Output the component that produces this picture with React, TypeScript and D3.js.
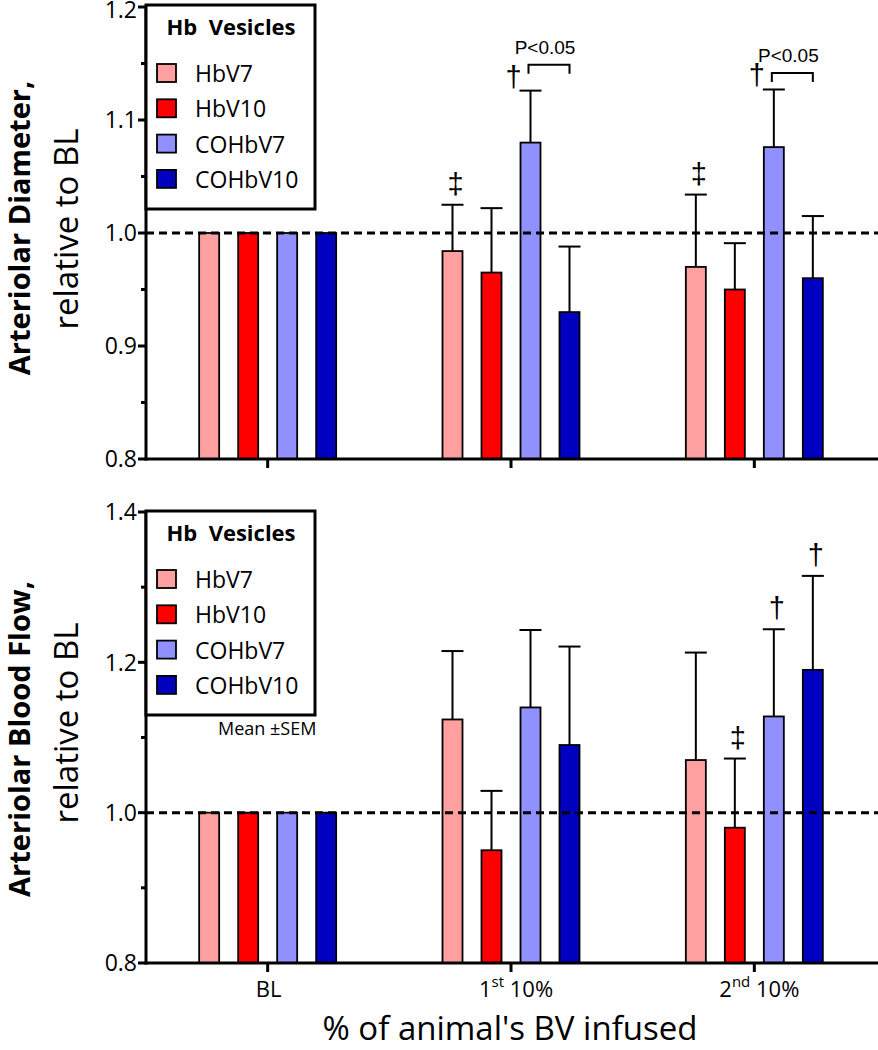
import React, { useLayoutEffect } from "react";
import * as d3 from "d3";

const groups = ["BL", "1st 10%", "2nd 10%"];
const groupMain = ["BL", "1", "2"];
const groupSup = ["", "st", "nd"];
const seriesNames = ["HbV7", "HbV10", "COHbV7", "COHbV10"];
const seriesColors = ["#FFA0A0", "#FF0000", "#9090FF", "#0000C0"];

// Arteriolar diameter (relative to BL)
const diamHbV7 = [1.0, 0.984, 0.970];
const diamHbV10 = [1.0, 0.965, 0.950];
const diamCOHbV7 = [1.0, 1.080, 1.076];
const diamCOHbV10 = [1.0, 0.930, 0.960];
const diamSemHbV7 = [0, 0.041, 0.064];
const diamSemHbV10 = [0, 0.057, 0.041];
const diamSemCOHbV7 = [0, 0.046, 0.051];
const diamSemCOHbV10 = [0, 0.058, 0.055];

// Arteriolar blood flow (relative to BL)
const flowHbV7 = [1.0, 1.124, 1.070];
const flowHbV10 = [1.0, 0.950, 0.980];
const flowCOHbV7 = [1.0, 1.140, 1.128];
const flowCOHbV10 = [1.0, 1.090, 1.190];
const flowSemHbV7 = [0, 0.091, 0.143];
const flowSemHbV10 = [0, 0.079, 0.092];
const flowSemCOHbV7 = [0, 0.103, 0.116];
const flowSemCOHbV10 = [0, 0.131, 0.125];

const diamTicks = [0.8, 0.9, 1.0, 1.1, 1.2];
const diamMinor = [0.85, 0.95, 1.05, 1.15];
const flowTicks = [0.8, 1.0, 1.2, 1.4];
const flowMinor = [0.9, 1.1, 1.3];

// significance marks: [groupIndex, seriesIndex, symbol, placement]
const diamMarks: [number, number, string, string][] = [
  [1, 0, "‡", "above"],
  [1, 2, "†", "left"],
  [2, 0, "‡", "above"],
  [2, 2, "†", "left"],
];
const flowMarks: [number, number, string, string][] = [
  [2, 1, "‡", "above"],
  [2, 2, "†", "above"],
  [2, 3, "†", "above"],
];
// brackets: [groupIndex, fromSeries, toSeries, level value, label]
const diamBrackets: [number, number, number, number, string][] = [
  [1, 2, 3, 1.149, "P<0.05"],
  [2, 2, 3, 1.1415, "P<0.05"],
];

const FONT = "'Open Sans', 'DejaVu Sans', sans-serif";
const X0 = 146;
const X1 = 876;

const xGroup = d3.scaleBand<string>().domain(groups).range([X0, X1]).paddingInner(0).paddingOuter(0);
const xSub = d3
  .scaleBand<string>()
  .domain(seriesNames)
  .range([-78, 78])
  .paddingInner(0.487)
  .paddingOuter(0.2435);

type PanelProps = {
  y: d3.ScaleLinear<number, number>;
  means: number[][];
  sems: number[][];
  major: number[];
  minor: number[];
  marks: [number, number, string, string][];
  brackets: [number, number, number, number, string][];
  titleBold: string;
  boldCenter: number;
  relCenter: number;
  legendTop: number;
  showMean: boolean;
};

function Panel(p: PanelProps) {
  const { y } = p;
  const [d0, d1] = y.domain();
  const yBottom = y(d0);
  const yTop = y(d1);
  const bw = xSub.bandwidth();
  const cx = (g: number) => (xGroup(groups[g]) as number) + xGroup.bandwidth() / 2;
  const bx = (g: number, s: number) => cx(g) + (xSub(seriesNames[s]) as number) + bw / 2;
  const fmt = d3.format(".1f");
  const lt = p.legendTop;
  return (
    <g>
      {/* bars */}
      {seriesNames.map((name, s) =>
        groups.map((g, gi) => {
          const v = p.means[s][gi];
          const c = bx(gi, s);
          return (
            <rect
              key={name + g}
              x={c - bw / 2}
              y={y(v)}
              width={bw}
              height={yBottom - y(v)}
              fill={seriesColors[s]}
              stroke="#000"
              strokeWidth={1.8}
            />
          );
        })
      )}
      {/* error bars */}
      {seriesNames.map((name, s) =>
        groups.map((g, gi) => {
          const v = p.means[s][gi];
          const e = p.sems[s][gi];
          if (!e) return null;
          const c = bx(gi, s);
          return (
            <g key={"e" + name + g} stroke="#000" strokeWidth={2}>
              <line x1={c} x2={c} y1={y(v)} y2={y(v + e)} />
              <line x1={c - 11} x2={c + 11} y1={y(v + e)} y2={y(v + e)} />
            </g>
          );
        })
      )}
      {/* reference line */}
      <line x1={X0} x2={878} y1={y(1)} y2={y(1)} stroke="#000" strokeWidth={3} strokeDasharray="8,5" />
      {/* significance marks */}
      {p.marks.map(([gi, s, sym, place], i) => {
        const top = y(p.means[s][gi] + p.sems[s][gi]);
        const c = bx(gi, s);
        const x = place === "left" ? c - 17 : c + 3;
        const yb = place === "left" ? top - 4 : top - 11;
        return (
          <text key={"m" + i} x={x} y={yb} textAnchor="middle" fontFamily="'Liberation Sans', Arial, sans-serif" fontSize={29}>
            {sym}
          </text>
        );
      })}
      {p.brackets.map(([gi, a, b, lvl, label], i) => {
        const xa = bx(gi, a) - 2;
        const xb = bx(gi, b);
        const yl = y(lvl);
        return (
          <g key={"b" + i}>
            <path d={`M${xa},${yl + 9}V${yl}H${xb}V${yl + 9}`} fill="none" stroke="#000" strokeWidth={2} />
            <text x={(xa + xb) / 2 - 4} y={yl - 11} textAnchor="middle" fontFamily="'Liberation Sans', Arial, sans-serif" fontSize={19}>
              {label}
            </text>
          </g>
        );
      })}
      {/* y axis */}
      <line x1={X0} x2={X0} y1={yTop - 1} y2={yBottom + 1.5} stroke="#000" strokeWidth={3} />
      {p.major.map((t) => (
        <g key={"t" + t}>
          <line x1={X0 - 8} x2={X0} y1={y(t)} y2={y(t)} stroke="#000" strokeWidth={3} />
          <text x={X0 - 9} y={Math.max(y(t), 10)} dy="0.36em" textAnchor="end" fontFamily={FONT} fontSize={23}>
            {fmt(t)}
          </text>
        </g>
      ))}
      {p.minor.map((t) => (
        <line key={"n" + t} x1={X0 - 5} x2={X0} y1={y(t)} y2={y(t)} stroke="#000" strokeWidth={3} />
      ))}
      {/* x axis */}
      <line x1={X0 - 1.5} x2={878} y1={yBottom} y2={yBottom} stroke="#000" strokeWidth={3} />
      {groups.map((g, gi) => (
        <line key={"xt" + g} x1={cx(gi)} x2={cx(gi)} y1={yBottom} y2={yBottom + 9} stroke="#000" strokeWidth={3} />
      ))}
      {/* y title */}
      <text
        transform={`translate(30,${p.boldCenter}) rotate(-90)`}
        textAnchor="middle"
        fontFamily={FONT}
        fontWeight="bold"
        fontSize={29}
      >
        {p.titleBold}
      </text>
      <text
        transform={`translate(78,${p.relCenter}) rotate(-90)`}
        textAnchor="middle"
        fontFamily={FONT}
        fontSize={33}
      >
        relative to BL
      </text>
      {/* legend */}
      <rect x={X0} y={lt} width={169} height={204} fill="#fff" stroke="#000" strokeWidth={3} />
      <text x={231} y={lt + 30} textAnchor="middle" fontFamily={FONT} fontWeight="bold" fontSize={22} style={{ whiteSpace: "pre" }}>
        {"Hb  Vesicles"}
      </text>
      {seriesNames.map((name, s) => (
        <g key={"l" + name}>
          <rect x={157} y={lt + 59 + s * 35.3} width={19} height={18} fill={seriesColors[s]} stroke="#000" strokeWidth={1.8} />
          <text x={195} y={lt + 77 + s * 35.3} fontFamily={FONT} fontSize={23}>
            {name}
          </text>
        </g>
      ))}
      {p.showMean && (
        <text x={218} y={lt + 224} fontFamily={FONT} fontSize={18}>
          Mean ±SEM
        </text>
      )}
    </g>
  );
}

export default function App() {
  useLayoutEffect(() => {
    document.body.style.margin = "0";
  }, []);
  const yDiam = d3.scaleLinear().domain([0.8, 1.2]).range([459, 7]);
  const yFlow = d3.scaleLinear().domain([0.8, 1.4]).range([963, 512]);
  const cx = (g: number) => (xGroup(groups[g]) as number) + xGroup.bandwidth() / 2;
  return (
    <svg width={878} height={1050} style={{ display: "block", background: "#fff" }}>
      <rect width={878} height={1050} fill="#fff" />
      <Panel
        y={yDiam}
        means={[diamHbV7, diamHbV10, diamCOHbV7, diamCOHbV10]}
        sems={[diamSemHbV7, diamSemHbV10, diamSemCOHbV7, diamSemCOHbV10]}
        major={diamTicks}
        minor={diamMinor}
        marks={diamMarks}
        brackets={diamBrackets}
        titleBold="Arteriolar Diameter,"
        boldCenter={228}
        relCenter={229}
        legendTop={5}
        showMean={false}
      />
      <Panel
        y={yFlow}
        means={[flowHbV7, flowHbV10, flowCOHbV7, flowCOHbV10]}
        sems={[flowSemHbV7, flowSemHbV10, flowSemCOHbV7, flowSemCOHbV10]}
        major={flowTicks}
        minor={flowMinor}
        marks={flowMarks}
        brackets={[]}
        titleBold="Arteriolar Blood Flow,"
        boldCenter={739}
        relCenter={723}
        legendTop={511}
        showMean={true}
      />
      {groups.map((g, gi) => (
        <text key={"xl" + g} x={cx(gi) + (gi ? 5 : 1)} y={997} textAnchor="middle" fontFamily={FONT} fontSize={22}>
          {groupMain[gi]}
          {groupSup[gi] && (
            <tspan dy={-10} fontSize={15}>
              {groupSup[gi]}
            </tspan>
          )}
          {groupSup[gi] && <tspan dy={10}>{" 10%"}</tspan>}
        </text>
      ))}
      <text x={510} y={1040} textAnchor="middle" fontFamily={FONT} fontSize={33}>
        % of animal's BV infused
      </text>
    </svg>
  );
}
